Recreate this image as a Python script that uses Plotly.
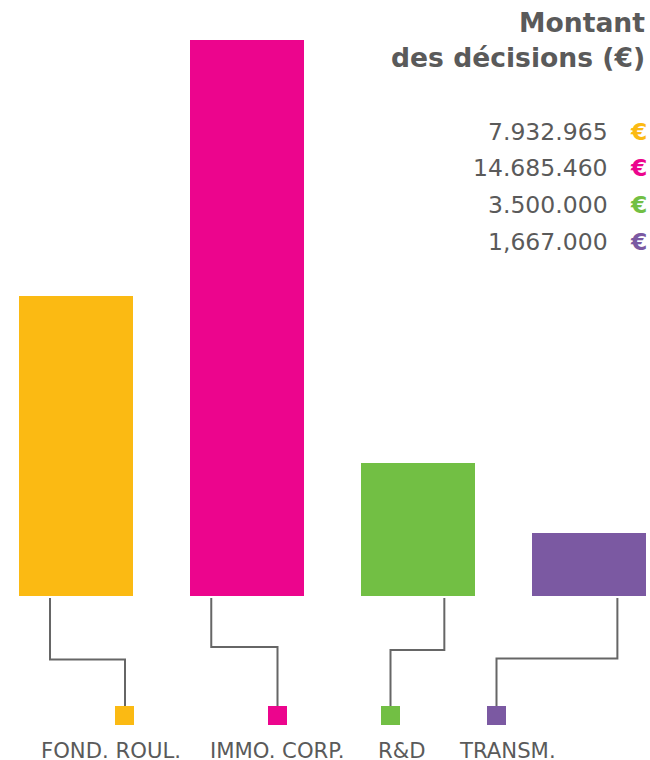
import plotly.graph_objects as go

# ---- data ----
categories = ["FOND. ROUL.", "IMMO. CORP.", "R&D", "TRANSM."]
values = [7932965, 14685460, 3500000, 1667000]
value_labels = ["7.932.965", "14.685.460", "3.500.000", "1,667.000"]
colors = ["#FBBA13", "#EC058D", "#72BF44", "#7B59A2"]
title_lines = ["Montant", "des décisions (€)"]

# ---- layout geometry (pixels) ----
W, H = 650, 760
ML, MR, MT, MB = 19, 4, 40, 164
PW, PH = W - ML - MR, H - MT - MB

def px(x):
    return (x - ML) / PW

def py(y):
    return (H - MB - y) / PH

TEXT = "#5a5a5a"
LINE = "#666666"

x_idx = list(range(len(categories)))

fig = go.Figure()
fig.add_trace(go.Bar(
    x=x_idx, y=values, width=2 / 3,
    marker=dict(color=colors, line=dict(width=0)),
    hoverinfo="skip", showlegend=False,
))

# connector geometry: start offset from bar centre (data units), elbow y, end x (pixels)
conn_start = [-0.152, -0.209, 0.154, 0.166]
conn_elbow = [659.5, 647, 650, 658.5]
conn_end_px = [125, 277.5, 390.5, 496.5]
sq_x0 = [115, 268, 381, 487]
label_cx = [111, 277, 402, 507.5]

shapes = []
annotations = []
for i, cat in enumerate(categories):
    xs = ML + (i + conn_start[i] + 1 / 3) * PW / (len(categories) - 1 + 2 / 3)
    xe = conn_end_px[i]
    path = (f"M {px(xs)},{py(598)} L {px(xs)},{py(conn_elbow[i])} "
            f"L {px(xe)},{py(conn_elbow[i])} L {px(xe)},{py(707)}")
    shapes.append(dict(type="path", xref="paper", yref="paper", path=path,
                       line=dict(color=LINE, width=2)))
    shapes.append(dict(type="rect", xref="paper", yref="paper",
                       x0=px(sq_x0[i]), x1=px(sq_x0[i] + 19),
                       y0=py(706), y1=py(725),
                       fillcolor=colors[i], line=dict(width=0)))
    annotations.append(dict(xref="paper", yref="paper", x=px(label_cx[i]), y=py(750.5),
                            text=cat, showarrow=False, xanchor="center", yanchor="middle",
                            font=dict(family="DejaVu Sans", size=21.2, color=TEXT)))

# title
for j, (t, yc) in enumerate(zip(title_lines, [22.5, 57])):
    annotations.append(dict(xref="paper", yref="paper", x=px(647), y=py(yc),
                            text=f"<b>{t}</b>", showarrow=False,
                            xanchor="right", yanchor="middle",
                            font=dict(family="DejaVu Sans", size=26.6, color=TEXT)))

# value list
row_y = [131.7, 167.5, 205.3, 242.5]
for i, lab in enumerate(value_labels):
    annotations.append(dict(xref="paper", yref="paper", x=px(610), y=py(row_y[i]),
                            text=lab, showarrow=False, xanchor="right", yanchor="middle",
                            font=dict(family="DejaVu Sans", size=23.5, color=TEXT)))
    annotations.append(dict(xref="paper", yref="paper", x=px(649), y=py(row_y[i]),
                            text="<b>€</b>", showarrow=False, xanchor="right", yanchor="middle",
                            font=dict(family="DejaVu Sans", size=23.5, color=colors[i])))

fig.update_layout(
    width=W, height=H,
    margin=dict(l=ML, r=MR, t=MT, b=MB, pad=0),
    paper_bgcolor="white", plot_bgcolor="white",
    xaxis=dict(range=[-1 / 3, len(categories) - 1 + 1 / 3], visible=False, fixedrange=True),
    yaxis=dict(range=[0, max(values)], visible=False, fixedrange=True),
    shapes=shapes, annotations=annotations,
    bargap=0,
)

fig.write_html("out.html", config={"displayModeBar": False},
               post_script="document.body.style.margin='0';document.body.style.overflow='hidden';")
